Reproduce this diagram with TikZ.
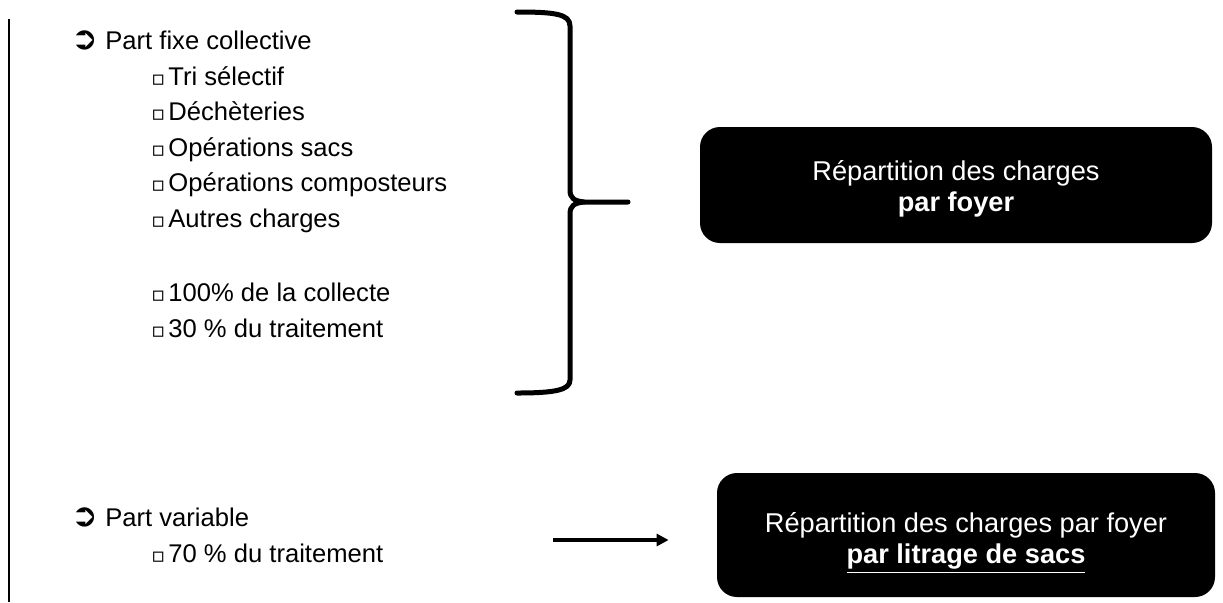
\documentclass[tikz,border=0pt]{standalone}
\usepackage{fontspec}
\setmainfont{Liberation Sans}
\newfontfamily\symfont{DejaVu Sans}
\usetikzlibrary{arrows.meta}
\newcommand{\arrbul}{\makebox[16.5pt][l]{\hspace{-0.5pt}\symfont\raisebox{-0.3pt}{\scalebox{1.25}{➲}}}}
\newcommand{\sqbul}{\makebox[8.5pt][l]{\symfont\scalebox{0.8}{▫}}}
\begin{document}
\begin{tikzpicture}[
    x=0.5pt, y=-0.5pt,
    font=\fontsize{12.8}{15}\selectfont,
    head/.style={anchor=base west, inner sep=0pt},
    sub/.style={anchor=base west, inner sep=0pt},
    result/.style={fill=black, text=white, rounded corners=10pt, align=center,
        font=\fontsize{13.6}{15.5}\selectfont},
    >={Triangle[length=6pt,width=6pt]}]
    \useasboundingbox (0,0) rectangle (1223,602);

    % margin rule on the left
    \draw[line width=1pt] (9,19) -- (9,602);

    % Fixed part
    \node[head] (fixe) at (72,49) {\arrbul Part fixe collective};
    \node[sub] (tri) at (151,85) {\sqbul Tri sélectif};
    \node[sub] (dech) at (151,120) {\sqbul Déchèteries};
    \node[sub] (sacs) at (151,156) {\sqbul Opérations sacs};
    \node[sub] (compo) at (151,191) {\sqbul Opérations composteurs};
    \node[sub] (autres) at (151,227) {\sqbul Autres charges};
    \node[sub] (collecte) at (151,301) {\sqbul 100\% de la collecte};
    \node[sub] (trait30) at (151,337) {\sqbul 30 \% du traitement};

    % Variable part
    \node[head] (variable) at (72,526) {\arrbul Part variable};
    \node[sub] (trait70) at (151,562) {\sqbul 70 \% du traitement};

    % Brace
    \draw[line width=2.5pt, line cap=round, line join=round]
        (517,12) .. controls (555,12) and (570,14) .. (570,26) -- (570,190)
        .. controls (570,198) and (574,201) .. (584,202) -- (628,202);
    \draw[line width=2.5pt, line cap=round, line join=round]
        (584,202) .. controls (574,203) and (570,206) .. (570,214) -- (570,380)
        .. controls (570,390) and (555,393) .. (517,393);

    % Results
    \node[result, minimum width=256pt, minimum height=58pt] (foyer) at (956,185)
        {\rule{0pt}{14pt}Répartition des charges\\\textbf{par foyer}};
    \node[result, minimum width=249pt, minimum height=62pt] (litrage) at (966,535)
        {\rule{0pt}{18pt}Répartition des charges par foyer\\\textbf{\underline{par litrage de sacs}}};

    % Arrow
    \coordinate (arrstart) at (553,540);
    \draw[->, line width=2pt, shorten >=24pt] (arrstart) -- (arrstart -| litrage.west);
\end{tikzpicture}
\end{document}
